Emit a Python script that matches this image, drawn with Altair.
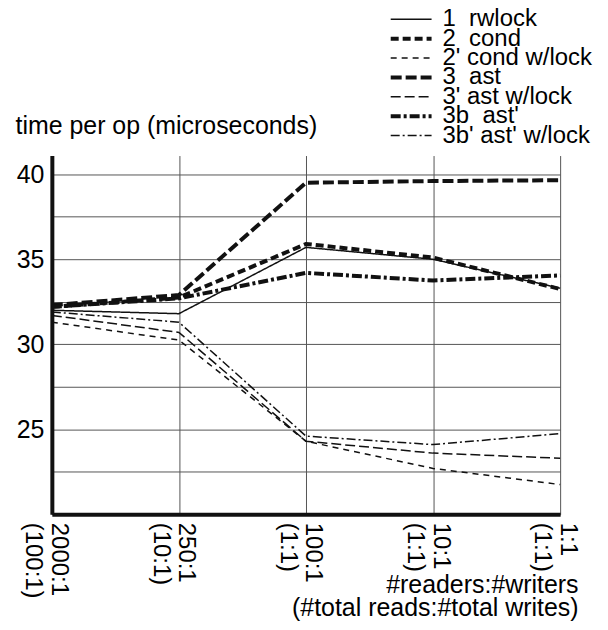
import altair as alt
import pandas as pd

# categories (two-line labels separated by "|")
ratios = ["2000:1|(100:1)", "250:1|(10:1)", "100:1|(1:1)", "10:1|(1:1)", "1:1|(1:1)"]

series = ["1\u00a0 rwlock", "2\u00a0 cond", "2' cond w/lock", "3\u00a0 ast",
          "3' ast w/lock", "3b\u00a0 ast'", "3b' ast' w/lock"]

rwlock = [32.0, 31.8, 35.7, 35.0, 33.3]
cond = [32.2, 32.75, 35.9, 35.1, 33.25]
cond_wl = [31.3, 30.25, 24.3, 22.7, 21.75]
ast = [32.3, 32.9, 39.5, 39.6, 39.65]
ast_wl = [31.7, 30.7, 24.3, 23.6, 23.3]
astp = [32.2, 32.7, 34.2, 33.75, 34.05]
astp_wl = [31.9, 31.3, 24.6, 24.1, 24.75]

values = [rwlock, cond, cond_wl, ast, ast_wl, astp, astp_wl]

dashes = [[1, 0], [8, 4], [6, 5], [11, 4], [10, 4], [10, 3, 3, 3], [9, 3, 2, 3]]
widths = [1.5, 4, 1.5, 4, 1.5, 4, 1.5]

rows = []
for s, vals in zip(series, values):
    for r, v in zip(ratios, vals):
        rows.append({"series": s, "ratio": r, "time": v})
df = pd.DataFrame(rows)
legend_df = pd.DataFrame({"series": series})

FONT = "Liberation Sans"

dash_enc = alt.StrokeDash("series:N", scale=alt.Scale(domain=series, range=dashes), legend=None)
width_enc = alt.StrokeWidth("series:N",
                            scale=alt.Scale(type="ordinal", domain=series, range=widths),
                            legend=None)

lines = alt.Chart(df).mark_line(color="#111", strokeCap="butt").encode(
    x=alt.X(
        "ratio:N", sort=ratios,
        scale=alt.Scale(type="point", padding=0),
        axis=alt.Axis(
            title=["#readers:#writers", "(#total reads:#total writes)"],
            labelExpr="split(datum.value, '|')",
            labelAngle=90, labelAlign="left", labelBaseline="alphabetic",
            labelPadding=8, labelOverlap=False, ticks=False,
            domainWidth=4, domainColor="#111",
            grid=True, gridColor="#555", gridWidth=1,
            labelFont=FONT, labelFontSize=24, labelLineHeight=26, labelColor="black",
            titleFont=FONT, titleFontSize=25, titleFontWeight="normal", titleColor="black",
            titleAlign="right", titleX=528, titleY=78, titleBaseline="alphabetic",
            titleLineHeight=23.5,
        ),
    ),
    y=alt.Y(
        "time:Q",
        scale=alt.Scale(domain=[20, 41.1], nice=False, zero=False),
        axis=alt.Axis(
            values=[20, 22.5, 25, 27.5, 30, 32.5, 35, 37.5, 40],
            labelExpr="(datum.value % 5 == 0 && datum.value > 20) ? datum.label : ''",
            title="time per op (microseconds)",
            titleAngle=0, titleX=-37, titleY=-22, titleAlign="left",
            titleBaseline="alphabetic",
            ticks=False, domainWidth=4, domainColor="#111",
            grid=True, gridColor="#555", gridWidth=1,
            labelPadding=8, labelFont=FONT, labelFontSize=25, labelColor="black",
            titleFont=FONT, titleFontSize=25, titleFontWeight="normal", titleColor="black",
        ),
    ),
    strokeDash=dash_enc,
    strokeWidth=width_enc,
)

legend_y = alt.Y("series:N", sort=series,
                 scale=alt.Scale(type="point", domain=series, range=[-136.7, -20], padding=0),
                 axis=None)

legend_rules = alt.Chart(legend_df).mark_rule(color="#111", strokeCap="butt").encode(
    y=legend_y,
    x=alt.value(340), x2=alt.value(381),
    strokeDash=dash_enc,
    strokeWidth=width_enc,
)

legend_text = alt.Chart(legend_df).mark_text(
    align="left", baseline="middle", font=FONT, fontSize=24, color="black"
).encode(
    y=legend_y,
    x=alt.value(392),
    text="series:N",
)

chart = alt.layer(lines, legend_rules, legend_text).resolve_scale(
    y="independent"
).properties(
    width=510, height=360,
    autosize=alt.AutoSizeParams(type="none"),
    padding={"left": 44, "top": 147, "right": 40, "bottom": 112},
    background="white",
).configure_view(stroke=None)

chart.save("out.html", embed_options={"renderer": "svg", "actions": False})
